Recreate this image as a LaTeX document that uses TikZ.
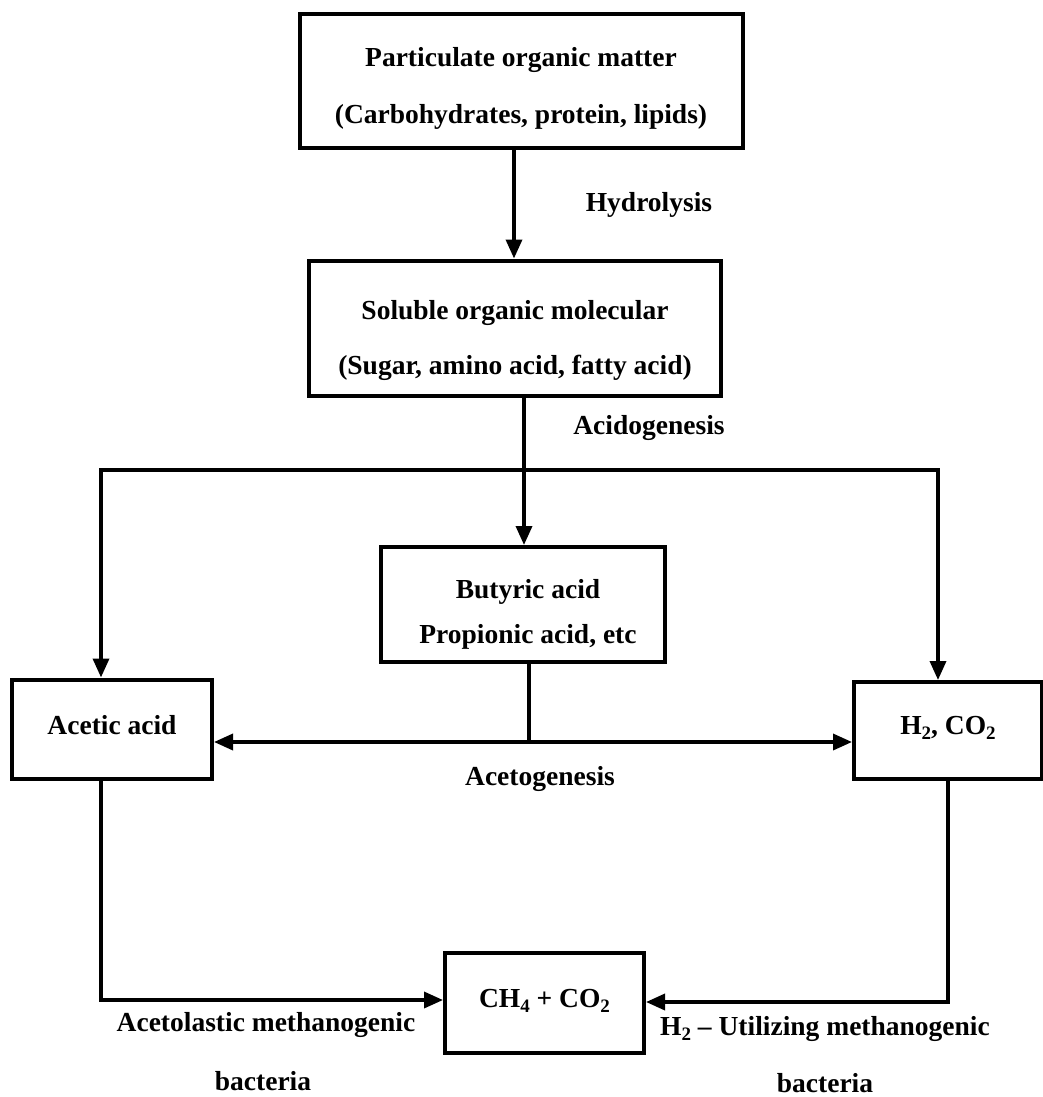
\documentclass[tikz,border=0pt]{standalone}
\usepackage{fontspec}
\setmainfont{Liberation Serif}
\usetikzlibrary{arrows.meta}
\newcommand{\chemsub}[1]{\raisebox{-0.45ex}{\fontsize{19}{19}\selectfont #1}}
\begin{document}
\begin{tikzpicture}[x=1pt,y=-1pt,
  every node/.style={font=\fontsize{27.5}{32}\selectfont\bfseries},
  txt/.style={anchor=base},
  box/.style={draw,line width=4pt,inner sep=0pt},
  link/.style={line width=3.5pt},
  arr/.style={line width=3.5pt,-{Triangle[length=19pt,width=16pt]}}]
\useasboundingbox[fill=white] (0,0) rectangle (1043,1097);

% process boxes
\node[box,minimum width=443pt,minimum height=134pt] (pom) at (521.5,81) {};
\node[txt] at (521,67) {Particulate organic matter};
\node[txt] at (521,124) {(Carbohydrates, protein, lipids)};

\node[box,minimum width=412pt,minimum height=135pt] (som) at (515,328) {};
\node[txt] at (515,319) {Soluble organic molecular};
\node[txt] at (515,374) {(Sugar, amino acid, fatty acid)};

\node[box,minimum width=284pt,minimum height=115pt] (but) at (523,604.5) {};
\node[txt] at (528,598) {Butyric acid};
\node[txt] at (528,643) {Propionic acid, etc};

\node[box,minimum width=200pt,minimum height=99pt] (ace) at (112,729) {};
\node[txt] at (112,734) {Acetic acid};
\node[box,minimum width=188pt,minimum height=97pt] (hyd) at (948,730.5) {};
\node[txt] at (948,734) {H\chemsub{2}, CO\chemsub{2}};
\node[box,minimum width=199pt,minimum height=100pt] (met) at (544.5,1003) {};
\node[txt] at (544.5,1007) {CH\chemsub{4} + CO\chemsub{2}};

% junction points
\coordinate (ja) at (524,470);
\coordinate (jl) at (101,470);
\coordinate (jr) at (938,470);
\coordinate (jb) at (529,742);
\coordinate (cl) at (101,1000);
\coordinate (cr) at (948,1002);

% hydrolysis
\draw[arr] (pom.south -| 514,0) -- (som.north -| 514,0);
\node[txt] at (649,211) {Hydrolysis};

% acidogenesis
\draw[link] (som.south -| ja) -- (ja);
\draw[link,line cap=rect] (jl) -- (jr);
\draw[arr] (jl) -- (ace.north -| jl);
\draw[arr] (jr) -- (hyd.north -| jr);
\draw[arr] (ja) -- (but.north -| ja);
\node[txt] at (649,434) {Acidogenesis};

% acetogenesis
\draw[link] (but.south -| jb) -- (jb);
\draw[arr] (jb) -- (ace.east |- jb);
\draw[arr] (jb) -- (hyd.west |- jb);
\node[txt] at (540,785) {Acetogenesis};

% methanogenesis
\draw[arr] (ace.south -| cl) -- (cl) -- (met.west |- cl);
\draw[arr] (hyd.south -| cr) -- (cr) -- (met.east |- cr);
\node[txt] at (266,1031) {Acetolastic methanogenic};
\node[txt] at (263,1090) {bacteria};
\node[txt] at (825,1035) {H\chemsub{2} -- Utilizing methanogenic};
\node[txt] at (825,1092) {bacteria};
\end{tikzpicture}
\end{document}
